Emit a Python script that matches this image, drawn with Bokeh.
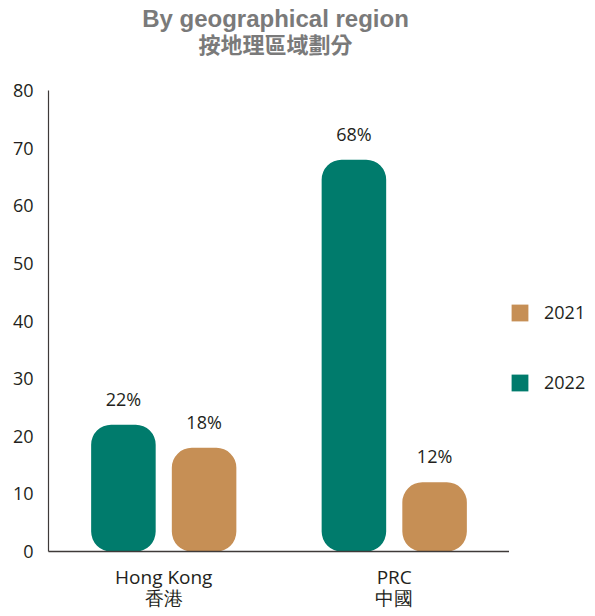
from bokeh.plotting import figure
from bokeh.models import (ColumnDataSource, FactorRange, Range1d, Legend, LegendItem,
                          LabelSet, Label)
from bokeh.layouts import row, column
from bokeh.core.properties import value
from bokeh.transform import dodge
from bokeh.embed import file_html
from bokeh.resources import INLINE

title_en = "By geographical region"
title_zh = "按地理區域劃分"
regions = ["Hong Kong", "PRC"]
regions_zh = ["香港", "中國"]
values_2022 = [22, 68]
values_2021 = [18, 12]
y_ticks = [0, 10, 20, 30, 40, 50, 60, 70, 80]
series_names = ["2021", "2022"]

TEAL = "#007b6c"
TAN = "#c68f55"
TXT = "#231f20"
GREY = "#7a7a7a"
FONT = "Open Sans"

factors = [f"{en}\n{zh}" for en, zh in zip(regions, regions_zh)]

src = ColumnDataSource(dict(
    region=factors,
    v2022=values_2022,
    v2021=values_2021,
    l2022=[f"{v}%" for v in values_2022],
    l2021=[f"{v}%" for v in values_2021],
))

# ---- title strip ----
pt = figure(width=590, height=73, output_backend="svg", toolbar_location=None,
            x_axis_location=None, y_axis_location=None, min_border=0)
pt.outline_line_color = None
pt.grid.grid_line_color = None
pt.add_layout(Label(x=275, y=55, x_units="screen", y_units="screen", text=title_en,
                    text_align="center", text_baseline="middle",
                    text_font="Liberation Sans", text_font_size="24px",
                    text_font_style="bold", text_color=GREY))
pt.add_layout(Label(x=275, y=31, x_units="screen", y_units="screen", text=title_zh,
                    text_align="center", text_baseline="middle",
                    text_font="Noto Sans CJK TC", text_font_size="22px",
                    text_font_style="bold", text_color=GREY))

# ---- main chart ----
p = figure(width=509, height=540, output_backend="svg", toolbar_location=None,
           x_range=FactorRange(factors=factors, range_padding=0),
           y_range=Range1d(0, 80),
           min_border_left=48, min_border_right=0, min_border_top=17, min_border_bottom=0)

p.outline_line_color = None
p.grid.grid_line_color = None
p.background_fill_color = "white"

off = 0.175
w = 0.28
r22 = p.vbar(x=dodge("region", -off, range=p.x_range), top="v2022", bottom=0, width=w,
             source=src, fill_color=TEAL, line_color=None, border_radius=20)
r21 = p.vbar(x=dodge("region", off, range=p.x_range), top="v2021", bottom=0, width=w,
             source=src, fill_color=TAN, line_color=None, border_radius=20)

for col, lab, dx in (("v2022", "l2022", -off), ("v2021", "l2021", off)):
    ls = LabelSet(x=dodge("region", dx, range=p.x_range), y=col, text=lab, source=src,
                  text_align="center", text_baseline="bottom", y_offset=14,
                  text_font=value(FONT), text_font_size="18px", text_color=TXT)
    p.add_layout(ls)

p.yaxis.ticker = y_ticks
p.yaxis.major_tick_line_color = None
p.yaxis.minor_tick_line_color = None
p.yaxis.axis_line_color = "#3e3a39"
p.yaxis.axis_line_width = 1.2
p.yaxis.major_label_text_font = FONT
p.yaxis.major_label_text_font_size = "18px"
p.yaxis.major_label_text_color = TXT
p.yaxis.major_label_standoff = 9

xa = p.xaxis[0]
xa.major_tick_line_color = None
xa.minor_tick_line_color = None
xa.axis_line_color = "#3e3a39"
xa.axis_line_width = 1.5
xa.major_label_text_font = FONT
xa.major_label_text_font_size = "19px"
xa.major_label_text_color = TXT
xa.major_label_text_line_height = 0.82
xa.major_label_standoff = 6

# ---- legend strip ----
pl = figure(width=81, height=540, output_backend="svg", toolbar_location=None,
            x_axis_location=None, y_axis_location=None, min_border=0)
pl.outline_line_color = None
pl.grid.grid_line_color = None
q21 = pl.vbar(x="v2021", top="v2021", width=1, source=src, fill_color=TAN,
              line_color=None, visible=False)
q22 = pl.vbar(x="v2022", top="v2022", width=1, source=src, fill_color=TEAL,
              line_color=None, visible=False)

legend = Legend(items=[LegendItem(label=series_names[0], renderers=[q21]),
                       LegendItem(label=series_names[1], renderers=[q22])],
                location=(0, 157), orientation="vertical",
                glyph_width=21, glyph_height=21, label_standoff=14, spacing=46,
                padding=0, margin=0, border_line_color=None, background_fill_alpha=0,
                label_text_font=FONT, label_text_font_size="18px", label_text_color=TXT)
pl.add_layout(legend, "center")

layout = column(pt, row(p, pl))
open("out.html", "w").write(file_html(layout, INLINE))
